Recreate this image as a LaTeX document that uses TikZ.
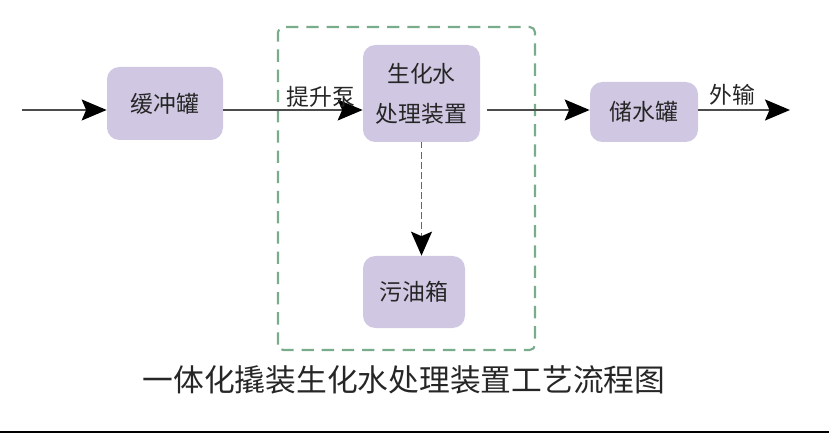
\documentclass[tikz,border=0pt]{standalone}
\usepackage{fontspec}
\newfontfamily\cjk{Noto Sans CJK SC}
\usetikzlibrary{arrows.meta}
\definecolor{boxfill}{HTML}{D0C8E3}
\definecolor{skidgreen}{HTML}{78AC8A}
\definecolor{txtgray}{HTML}{262626}
\begin{document}
\begin{tikzpicture}[
  font=\cjk\fontsize{13}{22.7}\selectfont,
  tank/.style={fill=boxfill, rounded corners=7pt, text=txtgray, align=center, inner sep=0pt},
  flow/.style={draw=black!70, line width=0.9pt, -{Stealth[length=5mm,width=4.2mm,inset=0.9mm,fill=black,color=black]}},
  drain/.style={draw=black!60, line width=0.9pt, dash pattern=on 3.5pt off 2.2pt, -{Stealth[length=4.8mm,width=4.2mm,inset=0.9mm,fill=black,color=black]}},
  skid/.style={draw=skidgreen, line width=1.2pt, dash pattern=on 7pt off 4.5pt, rounded corners=3pt}
]
\useasboundingbox (0,0) rectangle (16.58,8.66);
% skid frame
\draw[skid] (5.56,1.66) rectangle (10.70,8.12);
% units
\node[tank, minimum width=2.32cm, minimum height=1.46cm] (buffer) at (3.30,6.59) {缓冲罐};
\node[tank, minimum width=2.34cm, minimum height=1.94cm] (bio) at (8.43,6.79) {生化水\\处理装置};
\node[tank, minimum width=2.16cm, minimum height=1.20cm] (store) at (12.88,6.42) {储水罐};
\node[tank, minimum width=2.04cm, minimum height=1.44cm] (oil) at (8.28,2.82) {污油箱};
\coordinate (feed) at (0.44,6.46);
\coordinate (export) at (15.80,6.46);
% main flow
\draw[flow] (feed) -- (buffer.west |- feed);
\draw[flow] (buffer.east |- feed) -- node[pos=0.7, above, inner sep=1pt, text=txtgray] (pump) {提升泵} (bio.west |- feed);
\draw[flow, shorten <=4pt] (bio.east |- feed) -- (store.west |- feed);
\draw[flow] (store.east |- feed) -- node[pos=0.37, above, inner sep=2pt, text=txtgray] (out) {外输} (export);
% oil drain
\draw[drain] (bio.south) -- (bio.south |- oil.north);
% caption
\node[font=\cjk\fontsize{17.5}{20}\selectfont, text=txtgray] (title) at (8.08,1.06) {一体化撬装生化水处理装置工艺流程图};
\draw[line width=1.2pt] (0,0.02) -- (16.58,0.02);
\end{tikzpicture}
\end{document}
